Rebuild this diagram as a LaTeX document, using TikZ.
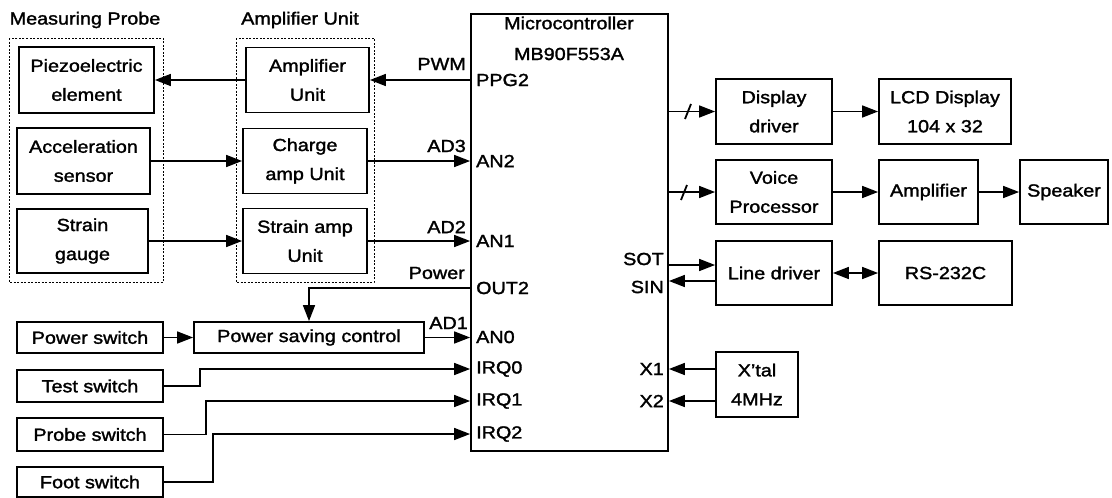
\documentclass[tikz,border=0pt]{standalone}
\usepackage{fontspec}
\setmainfont{Liberation Sans}[FakeStretch=1.13,FakeBold=1.6]
\usetikzlibrary{arrows.meta}
\newcommand\dfont{\fontsize{17.5}{29}\selectfont}
\begin{document}
\begin{tikzpicture}[x=1pt,y=-1pt,
  box/.style={draw, line width=1.8pt, inner sep=0pt, align=center, font=\dfont},
  grp/.style={draw, line width=1pt, dash pattern=on 2pt off 1.5pt},
  arr/.style={line width=1.6pt, -{Triangle[length=16pt,width=12pt]}},
  darr/.style={line width=1.6pt, {Triangle[length=16pt,width=12pt]}-{Triangle[length=16pt,width=12pt]}},
  ln/.style={line width=1.8pt},
  lbl/.style={inner sep=1pt, font=\dfont},
]
\useasboundingbox[fill=white] (0,0) rectangle (1112,498);

% group frames
\draw[grp] (9,38) rectangle (163,282);
\draw[grp] (236,38) rectangle (374,282);
\node[lbl] (hmp) at (85,20) {Measuring Probe};
\node[lbl] (hau) at (300,20) {Amplifier Unit};

% left boxes
\node[box, minimum width=135pt, minimum height=66pt] (piezo) at (86.5,80) {Piezoelectric\\element};
\node[box, minimum width=133pt, minimum height=66pt] (accel) at (83.5,161) {Acceleration\\sensor};
\node[box, minimum width=131pt, minimum height=64pt] (strain) at (82.5,241) {Strain\\gauge};
\node[box, minimum width=123pt, minimum height=65pt] (ampu) at (307.5,80) {Amplifier\\Unit};
\node[box, minimum width=124pt, minimum height=65pt] (charge) at (305,161) {Charge\\amp Unit};
\node[box, minimum width=124pt, minimum height=65pt] (samp) at (305,241) {Strain amp\\Unit};

% microcontroller
\node[box, minimum width=197pt, minimum height=437pt] (mcu) at (569.5,232.5) {};
\node[lbl] (mct1) at (569,23) {Microcontroller};
\node[lbl] (mct2) at (569,54) {MB90F553A};

% pin labels left
\node[lbl, anchor=west] (pPPG) at (475,80) {PPG2};
\node[lbl, anchor=west] (pAN2) at (475,161) {AN2};
\node[lbl, anchor=west] (pAN1) at (475,241) {AN1};
\node[lbl, anchor=west] (pOUT) at (475,288) {OUT2};
\node[lbl, anchor=west] (pAN0) at (475,337) {AN0};
\node[lbl, anchor=west] (pIRQ0) at (475,369) {IRQ0};
\node[lbl, anchor=west] (pIRQ1) at (475,401) {IRQ1};
\node[lbl, anchor=west] (pIRQ2) at (475,434) {IRQ2};
% pin labels right
\node[lbl, anchor=east] (pSOT) at (665,259) {SOT};
\node[lbl, anchor=east] (pSIN) at (665,287) {SIN};
\node[lbl, anchor=east] (pX1) at (665,369) {X1};
\node[lbl, anchor=east] (pX2) at (665,401) {X2};

% signal labels
\node[lbl, anchor=east] (sPWM) at (467,64) {PWM};
\node[lbl, anchor=east] (sAD3) at (467,146) {AD3};
\node[lbl, anchor=east] (sAD2) at (467,227) {AD2};
\node[lbl, anchor=east] (sPow) at (466,273) {Power};
\node[lbl, anchor=east] (sAD1) at (469,323) {AD1};

% right boxes
\node[box, minimum width=116pt, minimum height=65pt] (disp) at (774,111.5) {Display\\driver};
\node[box, minimum width=132pt, minimum height=65pt] (lcd) at (945,111.5) {LCD Display\\104 x 32};
\node[box, minimum width=116pt, minimum height=64pt] (voice) at (774,192) {Voice\\Processor};
\node[box, minimum width=99pt, minimum height=64pt] (amp) at (928.5,192) {Amplifier};
\node[box, minimum width=88pt, minimum height=64pt] (spk) at (1064,192) {Speaker};
\node[box, minimum width=116pt, minimum height=64pt] (line) at (774,273) {Line driver};
\node[box, minimum width=133pt, minimum height=64pt] (rs) at (945.5,273) {RS-232C};
\node[box, minimum width=82pt, minimum height=65pt] (xtal) at (757,384.5) {X'tal\\4MHz};

% bottom left boxes
\node[box, minimum width=146pt, minimum height=31pt] (pwr) at (90,337.5) {Power switch};
\node[box, minimum width=230pt, minimum height=31pt] (psc) at (309,337.5) {Power saving control};
\node[box, minimum width=146pt, minimum height=32pt] (test) at (90,386) {Test switch};
\node[box, minimum width=146pt, minimum height=33pt] (probe) at (90,434.5) {Probe switch};
\node[box, minimum width=146pt, minimum height=30pt] (foot) at (90,482) {Foot switch};

% connectors left
\draw[arr] (ampu.west) -- (piezo.east |- ampu.west);
\draw[arr] (mcu.west |- pPPG) -- (ampu.east);
\draw[arr] (accel.east) -- (charge.west);
\draw[arr] (charge.east) -- (mcu.west |- pAN2);
\draw[arr] (strain.east) -- (samp.west |- strain.east);
\draw[arr] (samp.east |- pAN1) -- (mcu.west |- pAN1);
\draw[arr] (mcu.west |- pOUT) -| (psc.north);
\draw[arr] (pwr.east) -- (psc.west);
\draw[arr] (psc.east) -- (mcu.west |- psc.east);
\draw[arr] (test.east) -- ++(36,0) |- (mcu.west |- pIRQ0);
\draw[arr] (probe.east) -- ++(42,0) |- (mcu.west |- pIRQ1);
\draw[arr] (foot.east) -- ++(49,0) |- (mcu.west |- pIRQ2);

% connectors right
\draw[arr] (mcu.east |- disp.west) -- (disp.west);
\draw[ln] (685,119) -- (691,104);
\draw[arr] (mcu.east |- voice.west) -- (voice.west);
\draw[ln] (681,200) -- (687,185);
\draw[arr] (disp.east) -- (lcd.west);
\draw[arr] (voice.east) -- (amp.west);
\draw[arr] (amp.east) -- (spk.west);
\draw[arr] (mcu.east |- 0,265) -- (line.west |- 0,265);
\draw[arr] (line.west |- 0,281) -- (mcu.east |- 0,281);
\draw[darr] (line.east) -- (rs.west);
\draw[arr] (xtal.west |- pX1) -- (mcu.east |- pX1);
\draw[arr] (xtal.west |- pX2) -- (mcu.east |- pX2);
\end{tikzpicture}
\end{document}
